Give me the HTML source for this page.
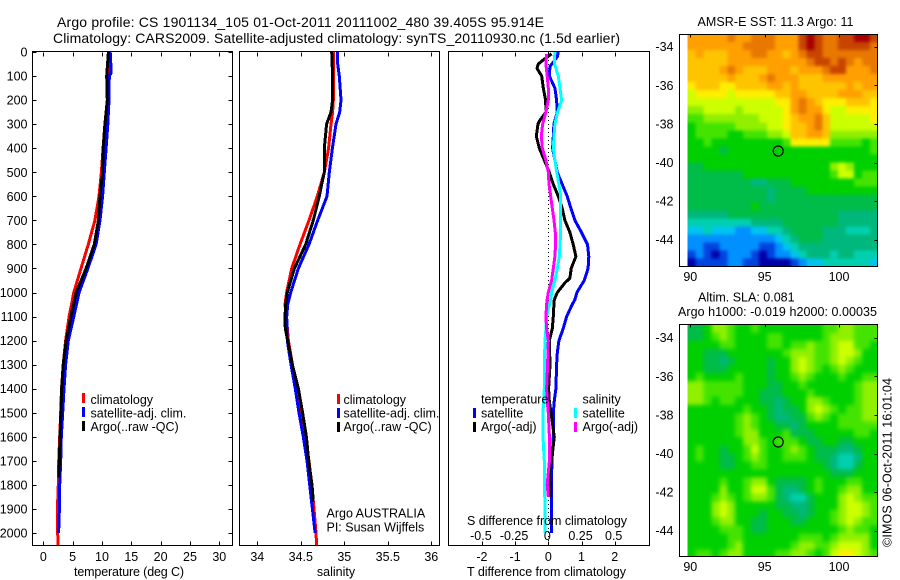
<!DOCTYPE html>
<html>
<head>
<meta charset="utf-8">
<title>Argo profile</title>
<style>
html,body{margin:0;padding:0;background:#fff;}
svg{display:block;}
text{font-family:"Liberation Sans",sans-serif;font-size:12.5px;fill:#000;}
.ttl{font-size:14px;}
.frame{fill:none;stroke:#000;stroke-width:1;shape-rendering:crispEdges;}
.tick{stroke:#000;stroke-width:1;shape-rendering:crispEdges;}
.curve{fill:none;stroke-width:3;stroke-linejoin:round;shape-rendering:crispEdges;}
</style>
</head>
<body>
<svg id="chart" xmlns="http://www.w3.org/2000/svg" width="900" height="580" viewBox="0 0 900 580">
  <defs>
    <filter id="soften-sst" x="-5%" y="-5%" width="110%" height="110%" color-interpolation-filters="sRGB">
      <feGaussianBlur stdDeviation="1.6"/>
      <feComponentTransfer><feFuncA type="linear" slope="50" intercept="0"/></feComponentTransfer>
    </filter>
    <filter id="soften-sla" x="-5%" y="-5%" width="110%" height="110%" color-interpolation-filters="sRGB">
      <feGaussianBlur stdDeviation="2.2"/>
      <feComponentTransfer><feFuncA type="linear" slope="50" intercept="0"/></feComponentTransfer>
    </filter>
    <clipPath id="clip-sst"><rect x="687.5" y="34" width="190" height="233"/></clipPath>
    <clipPath id="clip-sla"><rect x="687.5" y="325" width="190" height="232"/></clipPath>
  </defs>
  <rect x="0" y="0" width="900" height="580" fill="#fff"/>
  <text class="ttl" x="57" y="27" textLength="487">Argo profile: CS 1901134_105 01-Oct-2011 20111002_480 39.405S 95.914E</text>
  <text class="ttl" x="53" y="43" textLength="567">Climatology: CARS2009. Satellite-adjusted climatology: synTS_20110930.nc (1.5d earlier)</text>

  <g clip-path="url(#clip-sst)"><g id="map-sst" filter="url(#soften-sst)"></g></g>
  <g clip-path="url(#clip-sla)"><g id="map-sla" filter="url(#soften-sla)"></g></g>
  <g id="curves"></g>
  <g id="axes"></g>

  <rect class="frame" x="32.5" y="51.5" width="200" height="494"/>
  <rect class="frame" x="239.5" y="51.5" width="200" height="494"/>
  <rect class="frame" x="448.5" y="51.5" width="201" height="494"/>
  <rect class="frame" x="679.5" y="34.5" width="198" height="232"/>
  <rect class="frame" x="679.5" y="324.5" width="198" height="232"/>

  <text x="74" y="576" textLength="110">temperature (deg C)</text>
  <text x="336" y="576" text-anchor="middle">salinity</text>
  <text x="467" y="576" textLength="159">T difference from climatology</text>
  <text x="467" y="525" textLength="160">S difference from climatology</text>

  <rect x="82" y="393" width="3" height="10" fill="#f00"/>
  <text x="90.5" y="404">climatology</text>
  <rect x="82" y="407" width="3" height="10" fill="#00f"/>
  <text x="90.5" y="417.5">satellite-adj. clim.</text>
  <rect x="82" y="421" width="3" height="10" fill="#000"/>
  <text x="90.5" y="431">Argo(..raw -QC)</text>

  <rect x="337" y="394" width="3" height="10" fill="#f00"/>
  <text x="343.5" y="404">climatology</text>
  <rect x="337" y="408" width="3" height="10" fill="#00f"/>
  <text x="343.5" y="417.5">satellite-adj. clim.</text>
  <rect x="337" y="422" width="3" height="10" fill="#000"/>
  <text x="343.5" y="431">Argo(..raw -QC)</text>
  <text x="326.5" y="517.5">Argo AUSTRALIA</text>
  <text x="326.5" y="531.5">PI: Susan Wijffels</text>

  <text x="481" y="403.5">temperature</text>
  <rect x="473" y="408" width="3" height="10" fill="#00f"/>
  <text x="481" y="417.5">satellite</text>
  <rect x="473" y="422" width="3" height="10" fill="#000"/>
  <text x="481" y="431">Argo(-adj)</text>
  <text x="582.5" y="403.5">salinity</text>
  <rect x="574" y="408" width="3" height="10" fill="#0ff"/>
  <text x="582.5" y="417.5">satellite</text>
  <rect x="574" y="422" width="3" height="10" fill="#f0f"/>
  <text x="582.5" y="431">Argo(-adj)</text>

  <text x="697.5" y="26" textLength="156">AMSR-E SST: 11.3 Argo: 11</text>
  <text x="698" y="301.5">Altim. SLA: 0.081</text>
  <text x="678" y="316" textLength="199">Argo h1000: -0.019 h2000: 0.00035</text>
  <text transform="translate(891.5,547) rotate(-90)" textLength="169">©IMOS 06-Oct-2011 16:01:04</text>
</svg>
<script>
// ---------- tick labels ----------
const depthTicks = [0,100,200,300,400,500,600,700,800,900,1000,1100,1200,1300,1400,1500,1600,1700,1800,1900,2000];
const tempTicks = [0,5,10,15,20,25,30];
const salTicks = [34,34.5,35,35.5,36];
const salTickLabels = ['34','34.5','35','35.5','36'];
const dTTicks = [-2,-1,0,1,2];
const dTTickLabels = ['-2','-1','0','1','2'];
const dSTicks = [-0.5,-0.25,0,0.25,0.5];
const dSTickLabels = ['-0.5','-0.25','0','0.25','0.5'];
const lonTicks = [90,95,100];
const latTicks = [-34,-36,-38,-40,-42,-44];
const argoLon = 95.914;
const argoLat = -39.405;

// ---------- temperature panel ----------
const tempClimDepth = [0,100,200,300,400,500,600,700,800,900,1000,1100,1200,1300,1400,1500,1600,1700,1800,1900,2000,2050];
const tempClim = [11.1,11.0,10.9,10.6,10.2,9.9,9.5,8.8,7.67,6.43,5.2,4.4,3.8,3.4,3.1,2.96,2.8,2.62,2.55,2.4,2.45,2.5];
const tempSatDepth = [0,50,90,100,200,300,400,500,600,700,800,900,1000,1100,1200,1300,1400,1500,1600,1700,1800,1900,2000];
const tempSat = [11.4,11.5,11.5,11.25,11.2,11.0,10.7,10.4,10.1,9.67,9.0,7.6,6.1,5.2,4.26,3.8,3.53,3.3,3.07,2.96,2.8,2.75,2.6];
const tempArgoDepth = [0,100,200,300,400,500,600,700,800,900,1000,1100,1200,1300,1400,1500,1600,1700,1770];
const tempArgo = [11.1,10.8,10.9,10.5,10.2,10.1,9.67,9.4,8.7,7.3,5.6,4.7,3.9,3.4,3.13,3.0,2.85,2.75,2.65];

// ---------- salinity panel ----------
const salClimDepth = [0,100,200,250,300,400,500,600,700,800,900,1000,1050,1100,1200,1300,1400,1500,1600,1700,1800,1900,2000,2050];
const salClim = [34.874,34.878,34.874,34.866,34.847,34.820,34.770,34.690,34.594,34.491,34.395,34.337,34.318,34.334,34.357,34.403,34.452,34.498,34.541,34.594,34.625,34.652,34.675,34.682];
const salSatDepth = [0,50,100,200,250,300,400,500,600,700,800,900,1000,1050,1100,1200,1300,1400,1500,1600,1700,1800,1900,2000];
const salSat = [34.920,34.924,34.943,34.962,34.947,34.905,34.863,34.828,34.801,34.694,34.594,34.472,34.384,34.349,34.338,34.345,34.387,34.437,34.479,34.529,34.571,34.602,34.633,34.664];
const salArgoDepth = [0,100,200,250,300,400,500,550,600,700,800,900,1000,1050,1100,1150,1200,1300,1400,1500,1600,1700,1800,1870];
const salArgo = [34.855,34.866,34.866,34.847,34.797,34.770,34.770,34.740,34.713,34.644,34.556,34.426,34.345,34.326,34.318,34.322,34.349,34.403,34.472,34.521,34.564,34.591,34.629,34.644];

// ---------- difference panel ----------
const dTArgoDepth = [8,33,50,68,100,150,200,250,283,300,350,400,450,500,550,600,650,700,750,800,850,900,940,960,1000,1030,1050,1100,1150,1200,1300,1400,1450,1500,1600,1700,1750,1800,1850];
const dTArgo = [0.10,-0.15,-0.30,-0.34,-0.20,-0.15,-0.08,-0.07,-0.25,-0.31,-0.36,-0.27,-0.12,0.03,0.15,0.30,0.42,0.50,0.65,0.75,0.83,0.69,0.65,0.50,0.27,0.18,0.17,0.15,0.12,0.03,0.05,0.01,0.03,0.08,0.18,0.10,0.03,0.05,0.05];
const dTSatDepth = [0,20,60,100,150,200,250,300,350,400,450,500,550,600,650,700,750,800,850,900,950,1000,1030,1050,1100,1150,1200,1250,1300,1400,1450,1500,1600,1700,1800,1900,2000];
const dTSat = [0.30,0.27,0.05,0.03,0.20,0.25,0.27,0.17,0.15,0.13,0.20,0.27,0.42,0.57,0.68,0.80,1.00,1.18,1.22,1.20,1.08,0.86,0.80,0.72,0.55,0.45,0.32,0.27,0.25,0.23,0.18,0.15,0.15,0.11,0.09,0.09,0.09];
const dSSatDepth = [0,47,100,150,200,250,300,350,400,450,500,550,600,650,700,750,800,850,900,950,1000,1030,1050,1100,1150,1200,1300,1400,1500,1600,1700,1800,1900,2000];
const dSSat = [0.05,0.045,0.075,0.088,0.10,0.07,0.05,0.043,0.038,0.05,0.063,0.08,0.093,0.093,0.093,0.093,0.088,0.083,0.068,0.05,0.025,0.018,0.008,-0.013,-0.018,-0.025,-0.03,-0.03,-0.04,-0.04,-0.03,-0.03,-0.023,-0.023];
const dSArgoDepth = [8,50,100,150,200,250,300,350,400,450,500,550,600,650,700,750,800,850,900,950,1000,1030,1050,1100,1150,1200,1300,1400,1450,1500,1600,1700,1800,1850];
const dSArgo = [-0.013,-0.018,-0.008,0,0,-0.018,-0.043,-0.053,-0.045,-0.018,0,0.005,0.018,0.03,0.043,0.053,0.055,0.05,0.038,0.025,0,-0.008,-0.013,-0.018,-0.013,0,-0.005,-0.013,-0.008,0,0.008,0.008,-0.008,0];

// ---------- map grids (colour level per cell, north to south) ----------
const sstGrid = [
[13,13,13,13,13,14,13,13,14,14,14,13,13,13,15,16,15,14,14,15,15,16,16,15],
[13,13,13,13,13,13,13,14,14,14,14,13,13,13,15,16,15,14,14,15,15,15,15,14],
[12,13,12,12,12,13,13,13,14,14,13,13,12,13,14,15,15,14,14,14,14,14,14,14],
[12,12,12,12,12,13,13,13,13,13,13,13,13,13,13,14,15,15,14,15,14,13,14,14],
[12,12,12,12,13,14,13,12,12,12,13,13,13,12,13,13,13,14,15,15,13,13,13,14],
[12,12,12,12,12,13,12,12,12,13,14,13,13,13,12,12,12,13,13,13,13,13,13,13],
[11,12,12,12,11,11,12,12,12,12,13,13,12,13,12,12,12,12,12,12,13,12,13,13],
[10,11,11,11,11,10,11,11,11,11,11,12,12,13,13,12,12,12,12,13,13,13,12,12],
[10,10,10,10,10,10,10,10,10,10,10,11,11,13,14,13,12,11,11,11,12,12,12,11],
[9,9,10,10,10,10,9,10,10,10,10,10,11,13,14,13,13,11,10,10,11,11,11,11],
[8,8,9,9,9,9,9,9,9,10,10,10,11,12,13,13,14,12,10,10,10,10,10,11],
[7,8,8,8,8,8,9,9,9,9,10,10,11,12,12,13,14,12,10,10,10,10,10,10],
[7,8,8,8,8,7,7,8,8,8,9,9,10,12,12,13,13,12,9,9,9,9,9,9],
[7,7,8,7,7,7,7,7,7,7,7,7,8,11,11,11,11,11,8,8,8,8,7,8],
[7,7,7,7,6,7,7,7,7,7,7,7,7,7,7,7,7,7,7,7,7,7,7,8],
[7,7,7,7,7,7,7,7,7,7,7,7,7,7,7,7,7,7,7,7,7,7,7,7],
[6,6,7,7,7,7,7,7,7,7,7,7,7,7,7,7,7,7,9,10,9,7,7,7],
[6,6,6,6,6,6,6,7,7,7,7,7,7,7,7,7,7,7,8,10,10,7,8,8],
[6,6,6,6,6,6,6,6,5,5,6,6,6,7,7,7,7,7,7,7,7,8,8,8],
[6,6,6,6,6,6,6,6,6,6,5,6,6,6,6,7,7,7,7,7,7,7,7,7],
[6,6,6,6,6,6,6,6,6,6,5,6,6,6,6,6,6,6,6,6,6,6,6,6],
[6,6,6,6,6,6,6,6,7,6,6,6,6,6,6,6,6,6,6,6,6,6,6,6],
[5,5,5,5,5,6,6,6,6,6,6,6,6,6,6,6,6,6,6,5,5,5,5,5],
[4,4,4,4,4,4,4,4,5,5,5,5,6,6,6,6,6,6,6,5,5,5,5,5],
[3,3,4,3,3,3,2,2,3,3,4,4,5,6,6,6,6,5,5,5,4,4,4,5],
[2,2,2,2,2,2,2,2,2,2,2,3,4,5,6,6,6,5,5,5,5,5,5,5],
[2,2,1,1,2,2,2,2,2,1,1,2,3,4,5,5,5,5,5,5,5,5,5,5],
[1,2,1,0,1,2,2,2,1,0,1,2,2,3,4,5,5,5,4,5,5,4,4,4],
[0,1,1,1,1,2,2,1,1,0,0,0,0,1,2,3,3,4,4,4,4,4,4,3]
];
const slaGrid = [
[6,6,7,9,9,8,7,7,8,7,7,7,7,7,7,7,7,8,8,9,9,8,8,8],
[6,6,7,8,9,8,7,7,7,7,8,8,7,7,7,7,7,8,9,9,9,8,8,8],
[7,7,7,7,8,8,7,7,7,7,8,8,7,8,8,9,8,8,9,10,10,8,8,7],
[7,7,6,6,6,7,7,7,7,7,7,7,8,9,9,9,8,8,9,10,10,9,7,7],
[7,7,6,6,5,6,7,7,7,7,6,7,7,9,10,9,8,8,9,10,9,8,7,7],
[7,7,6,6,6,7,7,7,7,7,6,7,7,9,10,9,8,7,8,9,8,7,7,7],
[7,8,7,7,7,7,8,7,7,7,6,7,7,8,9,8,7,7,7,8,7,7,8,8],
[9,9,8,8,8,8,8,7,7,7,6,6,7,7,8,7,7,7,7,7,7,8,9,9],
[9,9,8,8,8,8,8,7,7,6,6,6,7,7,7,8,7,7,7,7,7,8,9,9],
[9,9,8,7,8,8,7,7,7,6,6,5,6,7,7,9,9,8,7,7,7,8,9,9],
[7,7,7,7,7,7,7,8,7,7,6,5,6,6,7,9,10,9,8,7,8,8,9,9],
[7,7,7,7,7,7,8,9,8,7,6,5,5,6,6,8,9,8,7,8,8,8,9,9],
[7,7,7,7,7,7,8,9,8,7,7,6,6,5,6,7,7,7,7,8,8,8,8,8],
[7,7,7,7,7,7,8,9,9,7,7,7,8,6,6,6,7,7,7,7,7,8,8,7],
[7,7,7,7,7,7,7,9,9,8,7,8,8,8,7,6,6,7,7,6,6,7,7,7],
[7,8,7,7,6,7,7,8,10,8,7,7,8,9,8,7,6,6,6,5,5,6,7,7],
[7,8,7,7,6,6,7,8,9,8,7,7,8,8,8,7,6,6,5,4,4,5,7,7],
[7,7,7,7,6,6,7,7,8,8,7,7,7,7,7,7,7,6,5,4,4,6,7,7],
[7,7,7,7,7,7,7,7,7,7,7,7,7,7,7,7,7,7,6,6,6,7,7,7],
[7,7,7,7,8,7,7,8,9,9,7,6,6,6,6,7,8,7,7,7,8,8,7,7],
[7,7,7,7,9,7,7,8,10,10,8,6,5,5,6,7,8,7,7,8,9,9,7,7],
[7,7,7,8,9,8,7,8,9,9,8,6,5,4,4,6,7,7,7,9,10,9,8,8],
[7,7,7,9,10,9,7,7,7,7,7,6,6,5,5,6,7,7,7,9,10,10,9,8],
[7,7,7,9,10,9,7,7,7,6,7,7,6,6,5,6,7,7,8,9,10,10,9,8],
[7,7,7,8,9,9,7,7,6,6,7,7,7,6,6,7,7,7,8,9,10,9,8,8],
[7,7,7,7,8,8,8,7,6,6,7,7,7,7,7,7,7,7,7,8,9,8,8,7],
[7,7,7,7,7,8,8,7,7,7,7,7,7,7,8,8,8,7,8,9,9,9,9,7],
[7,7,7,7,7,8,9,7,7,7,7,7,7,8,9,9,8,8,9,10,10,10,9,7],
[7,8,8,7,8,9,9,7,7,7,7,8,8,9,9,8,7,8,10,11,11,10,9,8]
];
const levelColors = ['#0000a8','#0044e0','#0090ff','#00c4f0','#00d0b0','#00b87c','#00bc48','#00d000','#44e400','#90f000','#ccff00','#ffee00','#ffc400','#ffa000','#e87800','#c84400','#a80000'];

// ---------- axis functions ----------
const NS = 'http://www.w3.org/2000/svg';
const yDepth = d => 52 + 0.2405 * d;
const xTemp = t => 43.3 + 5.867 * t;
const xSal = s => 257.3 + 87 * (s - 34);
const xDT = t => 548.3 + 33.2 * t;
const xDS = s => 548.3 + 132.8 * s;
const xLon = lon => 690.3 + 14.87 * (lon - 90);
const lonWest = 89.83;
const lonEast = 102.6;
const sstLat0 = 46.7;
const slaLat0 = 337.7;
const yLat = (lat, y0) => y0 + 19.3 * (-34 - lat);
const latNorthSst = -33.34;
const latSouthSst = -45.4;

const axesLayer = document.getElementById('axes');
const curvesLayer = document.getElementById('curves');

function addText(str, x, y, anchor, name) {
  const el = document.createElementNS(NS, 'text');
  el.setAttribute('x', x);
  el.setAttribute('y', y);
  el.setAttribute('text-anchor', anchor);
  
  
  el.textContent = str;
  axesLayer.appendChild(el);
}
function addTick(x1, y1, x2, y2, name) {
  const el = document.createElementNS(NS, 'line');
  el.setAttribute('class', 'tick');
  el.setAttribute('x1', Math.round(x1) + 0.5);
  el.setAttribute('y1', Math.round(y1) + 0.5);
  el.setAttribute('x2', Math.round(x2) + 0.5);
  el.setAttribute('y2', Math.round(y2) + 0.5);
  
  
  axesLayer.appendChild(el);
}
function drawCurve(depths, values, xFn, color, name) {
  const el = document.createElementNS(NS, 'polyline');
  el.setAttribute('class', 'curve');
  el.setAttribute('stroke', color);
  el.setAttribute('points', depths.map((d, i) => xFn(values[i]).toFixed(1) + ',' + yDepth(d).toFixed(1)).join(' '));
  
  
  curvesLayer.appendChild(el);
}
function drawMap(grid, parentId, y0, top, bottom, name) {
  const parent = document.getElementById(parentId);
  const rows = grid.length, cols = grid[0].length;
  const xL = xLon(lonWest), xR = xLon(lonEast);
  const yT = yLat(latNorthSst, y0), yB = yLat(latSouthSst, y0);
  grid.forEach((row, r) => row.forEach((level, c) => {
    const cell = document.createElementNS(NS, 'rect');
    const x0 = xL + (xR - xL) * c / cols, x1 = xL + (xR - xL) * (c + 1) / cols;
    const ya = yT + (yB - yT) * r / rows, yb = yT + (yB - yT) * (r + 1) / rows;
    cell.setAttribute('x', x0.toFixed(2));
    cell.setAttribute('y', ya.toFixed(2));
    cell.setAttribute('width', (x1 - x0 + 0.4).toFixed(2));
    cell.setAttribute('height', (yb - ya + 0.4).toFixed(2));
    cell.setAttribute('fill', levelColors[Math.max(0, Math.min(levelColors.length - 1, Math.round(level)))]);
    cell.setAttribute('shape-rendering', 'crispEdges');
    
    
    parent.appendChild(cell);
  }));
  const marker = document.createElementNS(NS, 'circle');
  marker.setAttribute('cx', xLon(argoLon).toFixed(1));
  marker.setAttribute('cy', yLat(argoLat, y0).toFixed(1));
  marker.setAttribute('r', 5);
  marker.setAttribute('fill', 'none');
  marker.setAttribute('stroke', '#000');
  marker.setAttribute('stroke-width', 1.2);
  
  
  axesLayer.appendChild(marker);
  lonTicks.forEach(lon => {
    addTick(xLon(lon), top, xLon(lon), top + 3, name + '-top-tick');
    addText(String(lon), xLon(lon), bottom + 18, 'middle', name + '-lon-label');
  });
  latTicks.forEach(lat => {
    addTick(877, yLat(lat, y0), 874, yLat(lat, y0), name + '-right-tick');
    addText(String(lat), 673.5, yLat(lat, y0) + 4.5, 'end', name + '-lat-label');
  });
}

// ---------- draw profile panels ----------
drawCurve(tempClimDepth, tempClim, xTemp, '#f00', 'temperature-climatology-line');
drawCurve(tempSatDepth, tempSat, xTemp, '#00f', 'temperature-satellite-line');
drawCurve(tempArgoDepth, tempArgo, xTemp, '#000', 'temperature-argo-line');
drawCurve(salClimDepth, salClim, xSal, '#f00', 'salinity-climatology-line');
drawCurve(salSatDepth, salSat, xSal, '#00f', 'salinity-satellite-line');
drawCurve(salArgoDepth, salArgo, xSal, '#000', 'salinity-argo-line');

const zeroLine = document.createElementNS(NS, 'line');
zeroLine.setAttribute('x1', 548.5);
zeroLine.setAttribute('y1', 52);
zeroLine.setAttribute('x2', 548.5);
zeroLine.setAttribute('y2', 545);
zeroLine.setAttribute('stroke', '#000');
zeroLine.setAttribute('stroke-width', 1);
zeroLine.setAttribute('stroke-dasharray', '1 3');
zeroLine.setAttribute('shape-rendering', 'crispEdges');


curvesLayer.appendChild(zeroLine);

drawCurve(dTSatDepth, dTSat, xDT, '#00f', 't-difference-satellite-line');
drawCurve(dTArgoDepth, dTArgo, xDT, '#000', 't-difference-argo-line');
drawCurve(dSSatDepth, dSSat, xDS, '#0ff', 's-difference-satellite-line');
drawCurve(dSArgoDepth, dSArgo, xDS, '#f0f', 's-difference-argo-line');

// ---------- profile axes ----------
depthTicks.forEach(d => {
  addText(String(d), 27.5, yDepth(d) + 4.5, 'end', 'depth-tick-label');
  addTick(232, yDepth(d), 228, yDepth(d), 'depth-right-tick');
  addTick(32, yDepth(d), 36, yDepth(d), 'depth-left-tick');
});
tempTicks.forEach(t => {
  addTick(xTemp(t), 52, xTemp(t), 56, 'temperature-top-tick');
  addTick(xTemp(t), 545, xTemp(t), 541, 'temperature-bottom-tick');
  addText(String(t), xTemp(t), 561, 'middle', 'temperature-tick-label');
});
salTicks.forEach((s, i) => {
  addTick(xSal(s), 52, xSal(s), 56, 'salinity-top-tick');
  addTick(xSal(s), 545, xSal(s), 541, 'salinity-bottom-tick');
  addText(salTickLabels[i], xSal(s), 561, 'middle', 'salinity-tick-label');
});
dTTicks.forEach((t, i) => {
  addTick(xDT(t), 52, xDT(t), 56, 'difference-top-tick');
  addTick(xDT(t), 545, xDT(t), 541, 'difference-bottom-tick');
  addText(dTTickLabels[i], xDT(t), 561, 'middle', 't-difference-tick-label');
});
dSTicks.forEach((s, i) => {
  addText(dSTickLabels[i], xDS(s) - 1, 540, 'middle', 's-difference-tick-label');
});

// ---------- maps ----------
drawMap(sstGrid, 'map-sst', sstLat0, 34, 263, 'sst-map');
drawMap(slaGrid, 'map-sla', slaLat0, 324, 553, 'sla-map');
</script>
</body>
</html>
